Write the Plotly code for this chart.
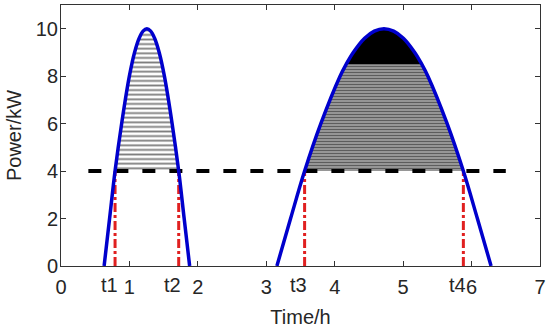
import plotly.graph_objects as go

# Hump 1 (Power curve, first period)
h1_x = [0.63, 0.71, 0.79, 0.886, 0.999, 1.075, 1.142, 1.199, 1.255, 1.311, 1.368, 1.435, 1.511, 1.624, 1.72, 1.80, 1.88]
h1_y = [0, 2, 4, 6, 8, 9, 9.6, 9.9, 10, 9.9, 9.6, 9, 8, 6, 4, 2, 0]
# Hump 2 (Power curve, second period)
h2_x = [3.155, 3.355, 3.56, 3.797, 4.078, 4.167, 4.271, 4.437, 4.579, 4.72, 4.861, 5.003, 5.169, 5.273, 5.362, 5.643, 5.88, 6.085, 6.285]
h2_y = [0, 2, 4, 6, 8, 8.5, 9, 9.6, 9.9, 10, 9.9, 9.6, 9, 8.5, 8, 6, 4, 2, 0]

threshold = 4
thr_x = [0.4, 6.5]
t_vals = [0.79, 1.72, 3.56, 5.88]
t_labels = ["t1", "t2", "t3", "t4"]
x_ticks = [0, 1, 2, 3, 4, 5, 6, 7]
y_ticks = [0, 2, 4, 6, 8, 10]

FONT = "Arial, Liberation Sans, sans-serif"
TXT = "#262626"

fig = go.Figure()

def above(xs, ys, lvl):
    px = [x for x, y in zip(xs, ys) if y >= lvl]
    py = [y for y in ys if y >= lvl]
    return px, py

# hatch fill hump 1
fx, fy = above(h1_x, h1_y, threshold)
fig.add_trace(go.Scatter(x=fx, y=fy, mode="lines", fill="toself", line=dict(width=0, shape="spline"),
                         fillcolor="white",
                         fillpattern=dict(shape="-", fgcolor="black", bgcolor="white", size=4.6, solidity=0.4),
                         hoverinfo="skip", showlegend=False))
# hatch fill hump 2
fx, fy = above(h2_x, h2_y, threshold)
fig.add_trace(go.Scatter(x=fx, y=fy, mode="lines", fill="toself", line=dict(width=0, shape="spline"),
                         fillcolor="#999999",
                         fillpattern=dict(shape="-", fgcolor="#111111", bgcolor="#a8a8a8", size=3, solidity=0.5),
                         hoverinfo="skip", showlegend=False))
# dense black cap of hump 2
fx, fy = above(h2_x, h2_y, 8.5)
fig.add_trace(go.Scatter(x=fx, y=fy, mode="lines", fill="toself", line=dict(width=0, shape="spline"),
                         fillcolor="black", hoverinfo="skip", showlegend=False))

# threshold dashed line
fig.add_trace(go.Scatter(x=thr_x, y=[threshold, threshold], mode="lines",
                         line=dict(color="black", width=4, dash="13px,14px"),
                         hoverinfo="skip", showlegend=False))

# red dash-dot lines
for t in t_vals:
    fig.add_trace(go.Scatter(x=[t, t], y=[0, threshold], mode="lines",
                             line=dict(color="#e02020", width=3, dash="9px,3px,3px,3px"),
                             hoverinfo="skip", showlegend=False))

# blue curves
for xs, ys in [(h1_x, h1_y), (h2_x, h2_y)]:
    fig.add_trace(go.Scatter(x=xs, y=ys, mode="lines",
                             line=dict(color="#0000cc", width=3.5, shape="spline"),
                             hoverinfo="skip", showlegend=False))

for t, lab in zip(t_vals, t_labels):
    fig.add_annotation(x=t, y=0, xref="x", yref="y", text=lab, showarrow=False,
                       yanchor="top", xanchor="center", yshift=-6, xshift=-6,
                       font=dict(family=FONT, size=20, color=TXT))

axis_common = dict(showline=True, mirror="ticks", linecolor="#333333", linewidth=1,
                   ticks="inside", ticklen=5, tickcolor="#333333", showgrid=False, zeroline=False,
                   automargin=False, tickfont=dict(family=FONT, size=20, color=TXT))

fig.update_layout(
    width=550, height=328,
    margin=dict(l=61, r=10, t=5, b=62),
    paper_bgcolor="white", plot_bgcolor="white",
    xaxis=dict(range=[0, 7], tickvals=x_ticks, ticktext=[str(v) for v in x_ticks],
               ticklabelstandoff=3,
               title=dict(text="Time/h", font=dict(family=FONT, size=20, color=TXT), standoff=14),
               **axis_common),
    yaxis=dict(range=[0, 11], tickvals=y_ticks, ticklabelstandoff=-2,
               title=dict(text="Power/kW", font=dict(family=FONT, size=20, color=TXT), standoff=8),
               **axis_common),
)

fig.write_html("out.html", config={"displayModeBar": False},
               post_script="document.body.style.margin='0';document.body.style.overflow='hidden';")
